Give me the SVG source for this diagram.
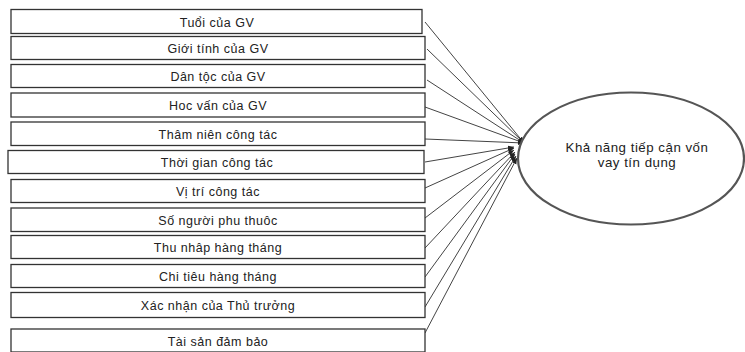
<svg xmlns="http://www.w3.org/2000/svg" width="745" height="352" viewBox="0 0 745 352">
<style>
.box{fill:#fff;stroke:#333;stroke-width:1.3}
.lbl{font-family:"Liberation Sans",Arial,sans-serif;font-size:12.5px;letter-spacing:0.5px;fill:#222;text-anchor:middle}
.big{font-size:13.3px}
.con{stroke:#444;stroke-width:1;fill:none;marker-end:url(#ah)}
</style>
<defs>
<marker id="ah" viewBox="0 0 10 10" refX="10" refY="5" markerWidth="6" markerHeight="6" orient="auto" markerUnits="userSpaceOnUse">
<path d="M0,1 L10,5 L0,9 z" fill="#222"/>
</marker>
</defs>
<rect width="745" height="352" fill="#fff"/>
<g id="connectors">
<line class="con" x1="425" y1="22" x2="524" y2="143"/>
<line class="con" x1="427" y1="49" x2="524" y2="143"/>
<line class="con" x1="427" y1="80" x2="524" y2="143"/>
<line class="con" x1="425" y1="107" x2="524" y2="143"/>
<line class="con" x1="425" y1="139" x2="524" y2="143"/>
<line class="con" x1="425" y1="162" x2="514" y2="147"/>
<line class="con" x1="425" y1="188" x2="514" y2="148"/>
<line class="con" x1="425" y1="218" x2="514" y2="150"/>
<line class="con" x1="425" y1="248" x2="515" y2="152"/>
<line class="con" x1="425" y1="277" x2="515" y2="154"/>
<line class="con" x1="425" y1="307" x2="516" y2="156"/>
<line class="con" x1="425" y1="333" x2="517" y2="158"/>
</g>
<g id="n1"><rect class="box" x="11" y="9.5" width="411" height="24"/><text class="lbl" x="217" y="26.5">Tuổi của GV</text></g>
<g id="n2"><rect class="box" x="11" y="36.5" width="414" height="23"/><text class="lbl" x="218" y="53">Giới tính của GV</text></g>
<g id="n3"><rect class="box" x="11" y="64.5" width="414" height="23"/><text class="lbl" x="218" y="81">Dân tộc của GV</text></g>
<g id="n4"><rect class="box" x="11" y="93" width="414" height="24"/><text class="lbl" x="218" y="110">Hoc vấn của GV</text></g>
<g id="n5"><rect class="box" x="11" y="122" width="414" height="23.5"/><text class="lbl" x="218" y="139">Thâm  niên công tác</text></g>
<g id="n6"><rect class="box" x="8" y="150.5" width="416" height="23"/><text class="lbl" x="217" y="167">Thời gian công tác</text></g>
<g id="n7"><rect class="box" x="11" y="179.5" width="414" height="23"/><text class="lbl" x="218" y="196">Vị trí công tác</text></g>
<g id="n8"><rect class="box" x="11" y="208" width="414" height="23.5"/><text class="lbl" x="218" y="225">Số người phu thuôc</text></g>
<g id="n9"><rect class="box" x="11" y="235.5" width="414" height="23"/><text class="lbl" x="218" y="252">Thu  nhâp hàng tháng</text></g>
<g id="n10"><rect class="box" x="11" y="264.5" width="414" height="23"/><text class="lbl" x="218" y="281">Chi tiêu hàng tháng</text></g>
<g id="n11"><rect class="box" x="11" y="292.5" width="414" height="25"/><text class="lbl" x="218" y="310">Xác nhận của Thủ trưởng</text></g>
<g id="n12"><rect class="box" x="11" y="329" width="414" height="23"/><text class="lbl" x="218" y="346">Tài sản đảm bảo</text></g>
<g id="target">
<ellipse cx="631" cy="158.5" rx="113" ry="66" fill="#fff" stroke="#555" stroke-width="2.2"/>
<text class="lbl big" x="637" y="152">Khả năng tiếp cận vốn</text>
<text class="lbl big" x="637" y="167">vay tín dụng</text>
</g>
</svg>
